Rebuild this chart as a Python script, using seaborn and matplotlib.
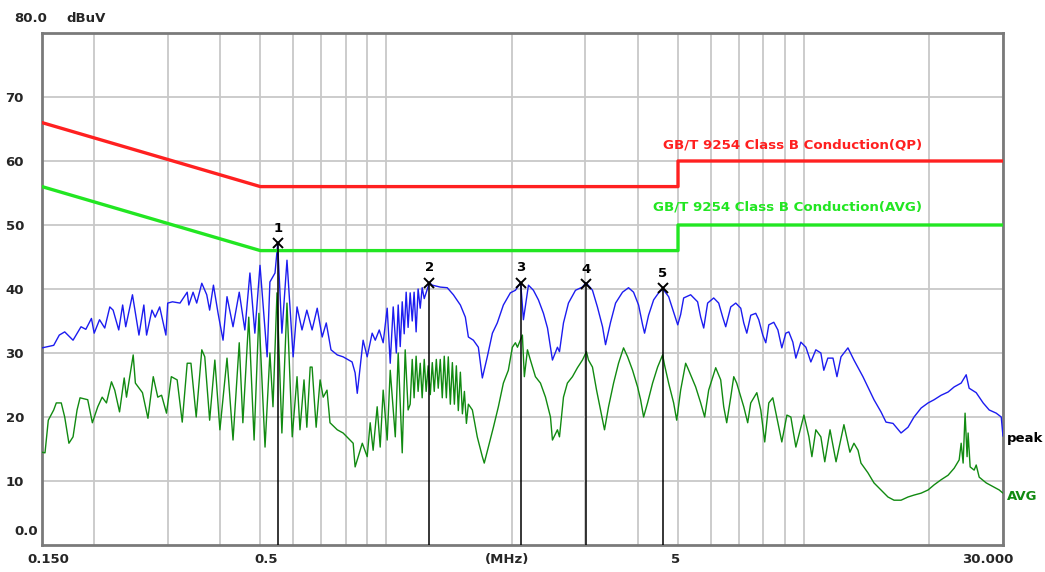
import matplotlib
matplotlib.use("Agg")
import matplotlib.pyplot as plt
import matplotlib.transforms as mtransforms
from matplotlib.ticker import NullFormatter
import seaborn as sns
import pandas as pd

# ---------------- data ----------------
# Limit lines (MHz, dBuV)
qp_limit_freq = [0.15, 0.5, 5.0, 5.0, 30.0]
qp_limit_val = [66, 56, 56, 60, 60]
avg_limit_freq = [0.15, 0.5, 5.0, 5.0, 30.0]
avg_limit_val = [56, 46, 46, 50, 50]

# Peak trace (MHz, dBuV)
peak_freq = [0.150, 0.160, 0.165, 0.170, 0.178, 0.186, 0.191, 0.197, 0.200, 0.206,
             0.212, 0.218, 0.222, 0.229, 0.234, 0.238, 0.247, 0.256, 0.263, 0.267,
             0.275, 0.280, 0.287, 0.297, 0.300, 0.308, 0.321, 0.334, 0.337, 0.345,
             0.352, 0.362, 0.372, 0.378, 0.386, 0.396, 0.407, 0.416, 0.430, 0.445,
             0.459, 0.472, 0.485, 0.499, 0.519, 0.527, 0.542, 0.550, 0.563, 0.579,
             0.599, 0.612, 0.629, 0.646, 0.665, 0.684, 0.703, 0.719, 0.738, 0.764,
             0.789, 0.829, 0.843, 0.853, 0.881, 0.901, 0.926, 0.942, 0.963, 0.984,
             1.006, 1.023, 1.040, 1.058, 1.069, 1.081, 1.093, 1.105, 1.117, 1.129,
             1.142, 1.155, 1.167, 1.180, 1.193, 1.207, 1.220, 1.234,
             1.270, 1.290, 1.348, 1.401, 1.449, 1.506, 1.548, 1.574, 1.618, 1.663,
             1.700, 1.747, 1.797, 1.846, 1.909, 1.984, 2.040, 2.100, 2.132, 2.192,
             2.253, 2.316, 2.381, 2.435, 2.502, 2.572, 2.601, 2.659, 2.733, 2.841,
             2.952, 3.010, 3.120, 3.206, 3.298, 3.353, 3.447, 3.544, 3.682, 3.806,
             3.913, 4.023, 4.113, 4.158, 4.251, 4.371, 4.493, 4.600, 4.748, 4.881,
             4.992, 5.073, 5.158, 5.361, 5.570, 5.666, 5.761, 5.887, 6.087, 6.257,
             6.397, 6.504, 6.687, 6.874, 7.066, 7.184, 7.306, 7.467, 7.676, 7.804,
             7.978, 8.112, 8.248, 8.479, 8.672, 8.862, 9.060, 9.211, 9.417, 9.575,
             9.843, 10.12, 10.40, 10.69, 10.99, 11.17, 11.42, 11.75, 12.01, 12.28,
             12.76, 13.19, 13.86, 14.24, 14.73, 15.31, 15.74, 16.36, 17.10, 17.77,
             18.37, 19.10, 19.85, 20.52, 21.33, 22.16, 22.92, 23.82, 24.49, 24.89,
             25.88, 26.89, 27.80, 28.90, 29.71, 30.00]
peak_val = [30.8, 31.2, 32.8, 33.3, 32.0, 34.1, 33.7, 35.4, 33.1, 35.2,
            33.9, 37.2, 36.7, 33.6, 37.5, 34.1, 39.1, 32.8, 37.5, 32.8,
            36.7, 35.6, 37.2, 32.8, 37.8, 38.0, 37.8, 39.5, 37.5, 39.5,
            37.8, 40.9, 39.1, 36.7, 40.6, 36.2, 32.0, 38.8, 34.1, 39.5,
            33.6, 42.5, 33.1, 43.7, 29.4, 41.1, 42.5, 47.0, 33.1, 44.5,
            29.4, 37.2, 33.6, 36.7, 33.6, 37.0, 32.5, 34.7, 30.5, 29.7,
            29.4, 28.6, 26.9, 23.7, 32.0, 29.4, 33.1, 32.0, 33.6, 31.6,
            37.0, 28.4, 37.2, 30.0, 37.5, 31.0, 38.0, 33.0, 39.5, 34.0,
            39.4, 35.0, 39.5, 33.3, 40.0, 37.0, 40.2, 38.5,
            41.0, 40.6, 40.3, 40.2, 39.1, 37.5, 35.6, 32.5, 32.0, 30.9,
            26.1, 29.4, 33.1, 34.7, 37.5, 39.4, 39.8, 41.0, 35.2, 40.6,
            39.8, 38.3, 36.2, 33.9, 28.9, 30.9, 30.2, 34.7, 37.8, 39.8,
            40.3, 41.0, 39.8, 37.2, 34.1, 31.3, 34.8, 37.8, 39.5, 40.2,
            39.5, 37.5, 34.4, 33.1, 35.9, 38.3, 39.4, 40.0, 38.8, 36.4,
            34.4, 36.0, 38.6, 39.1, 38.0, 35.6, 33.9, 37.8, 38.6, 37.8,
            35.6, 34.1, 37.2, 37.8, 37.0, 34.7, 33.1, 35.9, 36.2, 35.2,
            32.8, 31.6, 34.4, 34.8, 33.6, 30.8, 33.1, 33.3, 31.7, 29.2,
            31.7, 30.9, 28.6, 30.5, 30.0, 27.3, 29.2, 29.2, 26.3, 29.4,
            30.8, 28.9, 26.3, 24.7, 22.7, 20.8, 19.2, 19.0, 17.5, 18.4,
            20.0, 21.4, 22.2, 22.7, 23.4, 23.9, 24.7, 25.3, 26.6, 24.5,
            23.8, 22.2, 21.1, 20.6, 20.0, 17.0]

# Average trace (MHz, dBuV)
avg_freq = [0.150, 0.1525, 0.1553, 0.160, 0.1623, 0.1668, 0.170, 0.174, 0.178, 0.182,
            0.185, 0.193, 0.198, 0.204, 0.209, 0.214, 0.220, 0.224, 0.230, 0.236,
            0.239, 0.248, 0.251, 0.261, 0.269, 0.277, 0.284, 0.290, 0.298, 0.306,
            0.316, 0.325, 0.334, 0.341, 0.351, 0.362, 0.368, 0.378, 0.389, 0.400,
            0.416, 0.430, 0.445, 0.454, 0.469, 0.483, 0.496, 0.513, 0.527, 0.536,
            0.548, 0.563, 0.579, 0.596, 0.612, 0.622, 0.636, 0.646, 0.658, 0.665,
            0.680, 0.695, 0.707, 0.722, 0.734, 0.764, 0.789, 0.811, 0.834, 0.843,
            0.877, 0.901, 0.916, 0.931, 0.952, 0.968, 0.984, 1.006, 1.023, 1.052,
            1.069, 1.093, 1.111, 1.129,
            1.142, 1.155, 1.167, 1.180, 1.193, 1.207, 1.220, 1.234, 1.247, 1.261,
            1.276, 1.290, 1.304, 1.319, 1.333, 1.348, 1.363, 1.378, 1.394, 1.409,
            1.425, 1.441, 1.457, 1.473, 1.489, 1.506, 1.523, 1.540, 1.557, 1.574,
            1.609, 1.653, 1.700,
            1.718, 1.757, 1.807, 1.857, 1.909, 1.962, 2.006, 2.040, 2.063, 2.120,
            2.143, 2.180, 2.216, 2.278, 2.342, 2.408, 2.475, 2.502, 2.572, 2.601,
            2.659, 2.717, 2.794, 2.872, 2.952, 3.018, 3.052, 3.120, 3.191, 3.262,
            3.334, 3.409, 3.505, 3.602, 3.703, 3.787, 3.892, 4.001, 4.068, 4.136,
            4.227, 4.346, 4.468, 4.593, 4.643, 4.748, 4.881, 4.964, 5.073, 5.215,
            5.273, 5.511, 5.666, 5.791, 5.921, 6.155, 6.327, 6.433, 6.540, 6.687,
            6.799, 6.910, 7.184, 7.342, 7.467, 7.721, 7.891, 8.065, 8.248, 8.432,
            8.672, 8.862, 9.113, 9.314, 9.575, 9.843, 10.01, 10.29, 10.46, 10.69,
            10.99, 11.23, 11.56, 11.95, 12.48, 12.90, 13.19, 13.49, 13.71, 14.24,
            14.73, 15.31, 15.91, 16.45, 17.10, 17.77, 18.37, 19.10, 19.85, 20.52,
            21.33, 22.16, 22.92, 23.56, 23.82, 24.08, 24.34, 24.61, 24.75, 25.03,
            25.59, 25.88, 26.31, 27.35, 28.42, 29.38, 30.00]
avg_val = [14.5, 14.4, 19.5, 21.1, 22.2, 22.2, 20.0, 15.9, 16.9, 21.1,
           23.0, 22.7, 19.1, 21.6, 23.1, 22.2, 25.5, 24.2, 20.8, 26.1,
           23.1, 29.7, 25.3, 23.8, 19.8, 26.3, 23.1, 23.4, 20.6, 26.3,
           25.8, 19.2, 28.4, 28.4, 20.0, 30.5, 29.4, 19.5, 28.9, 18.0,
           29.2, 16.4, 31.6, 19.1, 35.6, 16.4, 36.2, 15.3, 30.0, 21.6,
           39.4, 17.5, 37.8, 16.9, 26.3, 18.0, 25.8, 18.4, 27.8, 27.8,
           18.4, 25.8, 23.1, 24.2, 19.1, 18.0, 17.5, 16.7, 15.9, 12.2,
           15.9, 13.8, 19.1, 14.8, 21.6, 15.3, 24.2, 16.4, 27.3, 16.9,
           30.0, 14.4, 30.5, 21.1,
           22.0, 29.0, 23.0, 29.5, 24.0, 28.4, 23.0, 29.0, 24.0, 28.0,
           23.5, 28.5, 24.0, 29.0, 24.5, 29.0, 23.0, 29.5, 23.0, 29.4,
           22.0, 28.5, 22.0, 28.0, 21.0, 27.0, 20.5, 24.0, 19.0, 22.0,
           21.1, 16.9, 13.8,
           12.8, 15.3, 18.4, 21.6, 25.3, 27.3, 30.9, 31.6, 30.9, 32.8,
           26.3, 30.5, 28.9, 26.3, 25.3, 23.1, 20.0, 16.4, 18.0, 16.9,
           23.1, 25.3, 26.3, 27.7, 28.9, 30.2, 28.9, 27.8, 24.2, 21.1,
           18.0, 21.6, 25.3, 28.4, 30.8, 29.4, 27.3, 24.7, 22.7, 20.0,
           22.2, 25.3, 27.8, 29.7, 28.1, 25.3, 22.2, 19.5, 24.2, 28.4,
           27.7, 24.7, 22.2, 20.0, 24.2, 27.7, 25.8, 21.6, 19.1, 23.1,
           26.3, 25.3, 21.6, 19.1, 22.2, 23.8, 21.1, 16.1, 22.2, 23.0,
           19.1, 16.1, 20.3, 20.0, 15.3, 18.4, 20.3, 16.9, 13.8, 18.0,
           16.9, 13.0, 18.0, 13.0, 18.8, 14.5, 15.9, 14.8, 12.8, 11.3,
           9.7, 8.6, 7.5, 7.0, 7.0, 7.5, 7.8, 8.1, 8.6, 9.4,
           10.2, 10.9, 12.0, 13.3, 15.9, 12.8, 20.6, 13.8, 17.5, 12.2,
           11.7, 12.5, 10.6, 9.7, 9.1, 8.6, 8.1]

# Markers
marker_no = ["1", "2", "3", "4", "5"]
marker_freq = [0.550, 1.270, 2.100, 3.010, 4.600]
marker_val = [47.2, 41.0, 41.0, 40.8, 40.1]

x_tick_vals = [0.15, 0.5, 2.0, 5.0, 30.0]
x_tick_labels = ["0.150", "0.5", "(MHz)", "5", "30.000"]
x_minor_vals = [0.2, 0.3, 0.4, 0.6, 0.7, 0.8, 0.9, 1.0, 3.0, 4.0, 6.0, 7.0, 8.0, 9.0, 10.0, 20.0]
y_tick_vals = [10, 20, 30, 40, 50, 60, 70]
y_tick_labels = ["10", "20", "30", "40", "50", "60", "70"]

qp_label = "GB/T 9254 Class B Conduction(QP)"
avg_label = "GB/T 9254 Class B Conduction(AVG)"

# ---------------- style ----------------
sns.set_style("white")
plt.rcParams["font.family"] = ["DejaVu Sans"]
plt.rcParams["font.weight"] = "bold"

C_QP = "#ff2020"
C_AVGLIM = "#22e622"
C_PEAK = "#1c1cf0"
C_AVG = "#118a11"

fig = plt.figure(figsize=(10.45, 5.72), dpi=100)
ax = fig.add_axes([42 / 1045, 1 - 545 / 572, 961 / 1045, 512 / 572])
ax.set_xscale("log")
ax.set_xlim(0.15, 30.0)
ax.set_ylim(0, 80)

# grid
ax.set_xticks(x_tick_vals)
ax.set_xticks(x_minor_vals, minor=True)
ax.xaxis.set_minor_formatter(NullFormatter())
ax.set_yticks(y_tick_vals)
ax.grid(True, which="both", axis="x", color="#c8c8c8", lw=1.3)
ax.grid(True, which="major", axis="y", color="#c8c8c8", lw=1.3)
ax.set_axisbelow(True)

df_peak = pd.DataFrame({"freq": peak_freq, "level": peak_val})
df_avg = pd.DataFrame({"freq": avg_freq, "level": avg_val})
df_qp = pd.DataFrame({"freq": qp_limit_freq, "level": qp_limit_val})
df_al = pd.DataFrame({"freq": avg_limit_freq, "level": avg_limit_val})

sns.lineplot(data=df_avg, x="freq", y="level", ax=ax, color=C_AVG, lw=1.0,
             estimator=None, sort=False, zorder=3)
sns.lineplot(data=df_peak, x="freq", y="level", ax=ax, color=C_PEAK, lw=1.0,
             estimator=None, sort=False, zorder=4)
sns.lineplot(data=df_qp, x="freq", y="level", ax=ax, color=C_QP, lw=2.4,
             estimator=None, sort=False, zorder=5)
sns.lineplot(data=df_al, x="freq", y="level", ax=ax, color=C_AVGLIM, lw=2.4,
             estimator=None, sort=False, zorder=5)

# markers
for no, f, v in zip(marker_no, marker_freq, marker_val):
    ax.vlines(f, 0, v, color="black", lw=1.1, zorder=6)
    ax.plot([f], [v], marker="x", ms=7, mew=1.4, color="black", zorder=7)
    ax.annotate(no, (f, v), xytext=(0, 6), textcoords="offset points",
                ha="center", va="bottom", fontsize=9.5, fontweight="bold",
                color="black", zorder=7)

# limit labels
ax.text(19.2, 62.5, qp_label, color=C_QP, fontsize=9.6, fontweight="bold",
        ha="right", va="center")
ax.text(19.2, 52.8, avg_label, color=C_AVGLIM, fontsize=9.6, fontweight="bold",
        ha="right", va="center")

# trace labels
ax.text(1.004, 16.7, "peak", transform=ax.get_yaxis_transform(), color="black",
        fontsize=9.5, fontweight="bold", ha="left", va="center")
ax.text(1.004, 7.5, "AVG", transform=ax.get_yaxis_transform(), color=C_AVG,
        fontsize=9.5, fontweight="bold", ha="left", va="center")

# tick labels
ax.set_xticklabels(x_tick_labels, fontsize=9.5, fontweight="bold")
ax.set_yticklabels(y_tick_labels, fontsize=9.5, fontweight="bold")
ax.tick_params(axis="both", which="both", length=0)
ax.tick_params(axis="y", pad=13)
ax.tick_params(axis="x", pad=6)
shifts = [6, 6, -5, -2, -15]
for lab, dx in zip(ax.get_xticklabels(), shifts):
    lab.set_transform(lab.get_transform() +
                      mtransforms.ScaledTranslation(dx / 100, 0, fig.dpi_scale_trans))

ax.text(-0.0166, 0.0254, "0.0", transform=ax.transAxes, fontsize=9.5,
        fontweight="bold", ha="center", va="center")
ax.text(-0.0114, 1.029, "80.0", transform=ax.transAxes, fontsize=9.5,
        fontweight="bold", ha="center", va="center")
ax.text(0.0458, 1.029, "dBuV", transform=ax.transAxes, fontsize=9.5,
        fontweight="bold", ha="center", va="center")

ax.set_xlabel("")
ax.set_ylabel("")
for s in ax.spines.values():
    s.set_visible(True)
    s.set_color("#7a7a7a")
    s.set_linewidth(2.0)

fig.savefig("out.png", dpi=100, facecolor="white")
